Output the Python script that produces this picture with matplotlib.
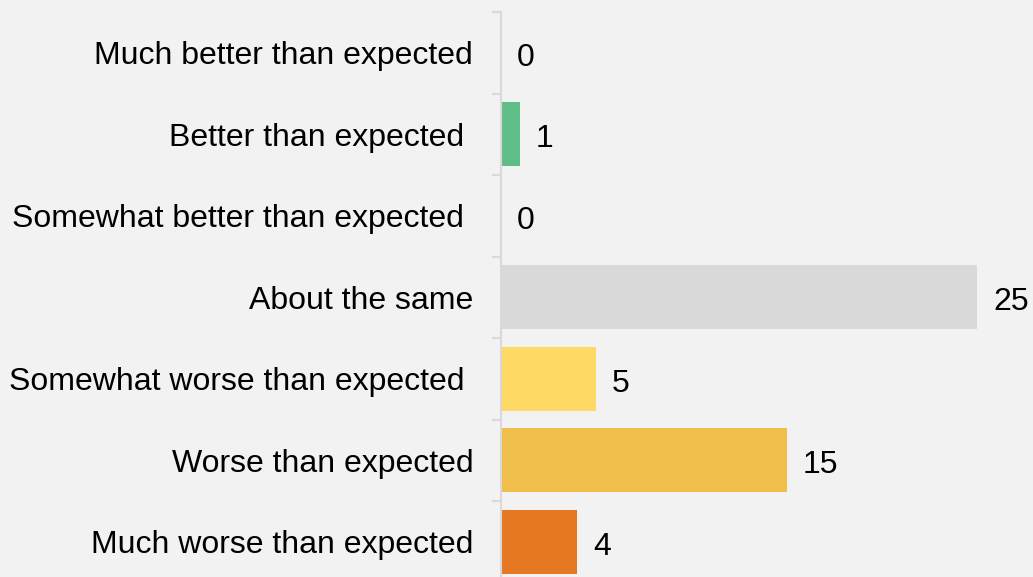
import numpy as np
import matplotlib.pyplot as plt

plt.rcParams['font.family'] = ['Liberation Sans', 'DejaVu Sans']

# categories top to bottom (some labels carry a trailing space, as in the source)
categories = ['Much better than expected', 'Better than expected ',
              'Somewhat better than expected ', 'About the same',
              'Somewhat worse than expected ', 'Worse than expected',
              'Much worse than expected']
counts = [0, 1, 0, 25, 5, 15, 4]
colors = ['#5fbe87', '#5fbe87', '#5fbe87', '#d9d9d9', '#ffd966', '#f0be4a', '#e67822']

bg = '#f2f2f2'
fig = plt.figure(figsize=(10.33, 5.77), dpi=100, facecolor=bg)
# axes reaches a little below the bottom edge of the figure, like the source
ax = fig.add_axes([501 / 1033, -5.5 / 577, 476 / 1033, 570.5 / 577])
ax.set_facecolor(bg)

y = np.arange(len(categories))
ax.barh(y, counts, height=0.79, color=colors)
ax.set_ylim(len(categories) - 0.5, -0.5)
ax.set_xlim(0, 25)

# value labels
for yi, v in zip(y, counts):
    ax.annotate(str(v), (v, yi), xytext=(11.5, -1), textcoords='offset points',
                va='center_baseline', ha='left', fontsize=23, color='black',
                annotation_clip=False)

ax.set_yticks(y)
ax.set_yticklabels(categories, fontsize=23)
ax.tick_params(axis='y', which='major', length=0, pad=20)
ax.set_yticks(np.arange(-0.5, len(categories)), minor=True)
ax.tick_params(axis='y', which='minor', length=6.5, width=1.5, color='#d9d9d9')
ax.set_xticks([])

for side in ['top', 'right', 'bottom']:
    ax.spines[side].set_visible(False)
ax.spines['left'].set_color('#d9d9d9')
ax.spines['left'].set_linewidth(1.5)

fig.savefig('out.png', dpi=100, facecolor=bg)
